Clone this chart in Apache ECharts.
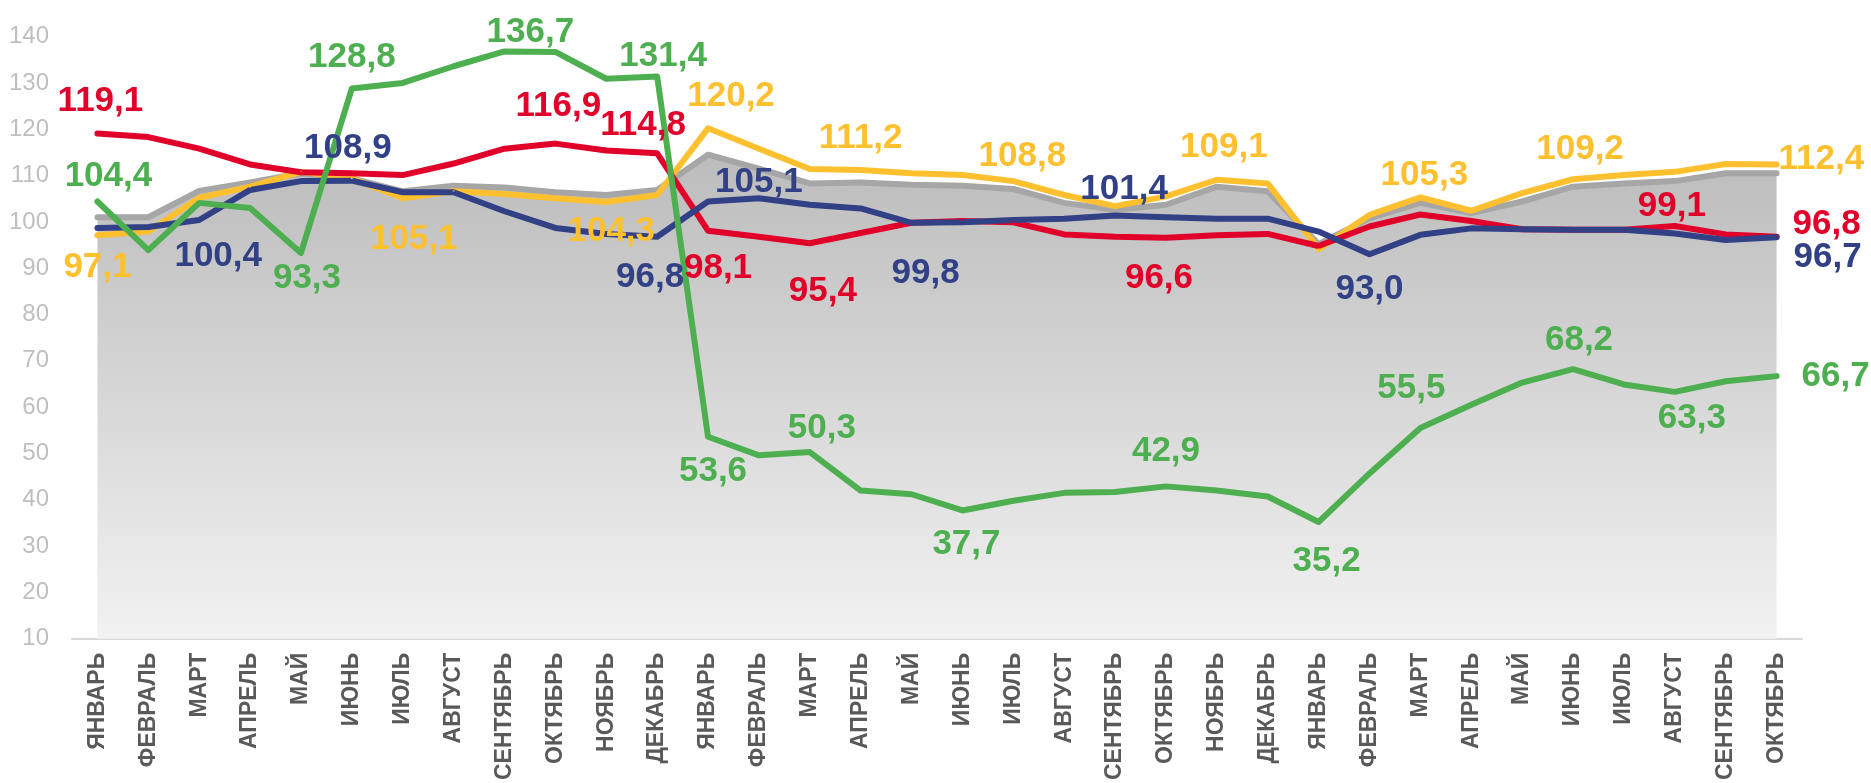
<!DOCTYPE html>
<html>
<head>
<meta charset="utf-8">
<script src="https://cdn.jsdelivr.net/npm/echarts@6/dist/echarts.min.js"></script>
<style>
  html, body { margin: 0; padding: 0; background: #ffffff; }
  #chart { width: 1871px; height: 783px; }
</style>
</head>
<body>
<div id="chart"></div>
<script>
var months = ['ЯНВАРЬ', 'ФЕВРАЛЬ', 'МАРТ', 'АПРЕЛЬ', 'МАЙ', 'ИЮНЬ', 'ИЮЛЬ', 'АВГУСТ', 'СЕНТЯБРЬ', 'ОКТЯБРЬ', 'НОЯБРЬ', 'ДЕКАБРЬ'];
var categories = months.concat(months, months.slice(0, 10));

// серая подложка
var greyValues = [101.0, 101.0, 106.7, 108.5, 110.5, 109.4, 106.6, 107.8, 107.4, 106.4, 105.8, 106.9,
  114.5, 111.5, 108.3, 108.5, 108.0, 107.8, 107.1, 104.1, 102.6, 103.7, 107.6, 106.6,
  95.2, 100.8, 104.1, 101.9, 104.4, 107.6, 108.3, 108.8, 110.5, 110.5];
var yellowValues = [97.1, 97.9, 105.2, 107.6, 110.8, 109.4, 105.1, 106.6, 106.0, 105.1, 104.3, 105.8,
  120.2, 115.8, 111.4, 111.2, 110.5, 110.1, 108.8, 105.8, 103.4, 105.5, 109.1, 108.3,
  94.1, 101.5, 105.3, 102.4, 106.2, 109.2, 110.1, 110.8, 112.5, 112.4];
var redValues = [119.1, 118.3, 115.8, 112.4, 110.7, 110.5, 110.1, 112.6, 115.8, 116.9, 115.4, 114.8,
  98.1, 96.8, 95.4, 97.6, 99.8, 100.2, 99.9, 97.3, 96.8, 96.6, 97.1, 97.4,
  94.8, 99.0, 101.6, 100.2, 98.4, 98.3, 98.3, 99.1, 97.3, 96.8];
var blueValues = [98.7, 98.9, 100.4, 106.9, 108.8, 108.9, 106.4, 106.4, 102.3, 98.7, 97.4, 96.8,
  104.4, 105.1, 103.7, 102.9, 99.8, 99.9, 100.4, 100.7, 101.4, 101.0, 100.7, 100.7,
  97.9, 93.0, 97.2, 98.6, 98.4, 98.3, 98.3, 97.5, 96.1, 96.7];
var greenValues = [104.4, 93.9, 104.1, 103.0, 93.3, 128.8, 130.0, 133.6, 136.8, 136.7, 130.9, 131.4,
  53.6, 49.6, 50.3, 42.0, 41.2, 37.7, 39.8, 41.5, 41.7, 42.9, 42.0, 40.7,
  35.2, 45.7, 55.5, 60.5, 65.3, 68.2, 64.9, 63.3, 65.6, 66.7];

var yTicks = { min: 10, max: 140, step: 10 };

// подписи: [индекс, позиция, dx, dy]
var yellowLabels = [[0, 'bottom', 0, 0], [6, 'bottom', 11, 9], [10, 'bottom', 5, -3], [12, 'top', 23, 1],
  [15, 'top', 0, 1], [18, 'top', 9, 8], [22, 'top', 7, 0], [26, 'top', 4, 11], [29, 'top', 7, 3], [33, 'right', 0, -5]];
var redLabels = [[0, 'top', 3, 0], [9, 'top', 3, -5], [11, 'top', -14, 5], [12, 'bottom', 10, 5],
  [14, 'bottom', 13, 16], [21, 'bottom', -7, 8], [31, 'top', -3, 13], [33, 'right', 14, -12]];
var blueLabels = [[2, 'bottom', 19, 4], [5, 'top', -4, 0], [11, 'bottom', -7, 8], [13, 'top', 0, 17],
  [16, 'bottom', 14, 18], [20, 'top', 9, 6], [25, 'bottom', 0, 3], [33, 'right', 15, 20]];
var greenLabels = [[0, 'top', 11, 7], [4, 'bottom', 6, -7], [5, 'top', 0, 1], [9, 'top', -25, 13],
  [11, 'top', 6, 12], [12, 'bottom', 5, 2], [14, 'top', 12, 9], [17, 'bottom', 4, 1], [21, 'top', 0, -3],
  [24, 'bottom', 8, 7], [26, 'top', -9, -7], [29, 'top', 6, 4], [31, 'bottom', 17, -6], [33, 'right', 23, 0]];

var FONT = '"Liberation Sans", Arial, sans-serif';

function fmt(v) {
  return v.toFixed(1).replace('.', ',');
}

function buildData(values, labels, color) {
  var data = values.map(function (v) { return { value: v }; });
  labels.forEach(function (l) {
    data[l[0]].label = {
      show: true,
      position: l[1],
      distance: l[1] == 'right' ? 1 : 14,
      color: color,
      fontFamily: FONT,
      fontWeight: 'bold',
      fontSize: 35,
      lineHeight: 35,
      formatter: function (p) { return fmt(p.value); }
    };
  });
  return data;
}

function lineSeries(name, values, labels, color) {
  var shift = {};
  labels.forEach(function (l) { shift[l[0]] = { dx: l[2], dy: l[3] }; });
  return {
    name: name,
    type: 'line',
    data: buildData(values, labels, color),
    // точки почти невидимы, нужны только для подписей
    showSymbol: true,
    symbol: 'circle',
    symbolSize: 2,
    itemStyle: { color: color },
    labelLayout: function (params) {
      var s = shift[params.dataIndex];
      return s ? { dx: s.dx, dy: s.dy, hideOverlap: false } : {};
    },
    lineStyle: { color: color, width: 6, cap: 'round', join: 'round' },
    emphasis: { disabled: true },
    z: 3
  };
}

function getOption() {
  return {
    backgroundColor: '#ffffff',
    animation: false,
    grid: { left: 72, right: 69, top: 36.6, bottom: 137.3 },
    xAxis: {
      type: 'category',
      data: categories,
      boundaryGap: true,
      axisLine: { show: true, lineStyle: { color: '#d9d9d9', width: 2 } },
      axisTick: { show: false },
      axisLabel: {
        interval: 0,
        rotate: 90,
        margin: 14,
        color: '#595959',
        fontFamily: FONT,
        fontWeight: 'bold',
        fontSize: 23
      },
      splitLine: { show: false }
    },
    yAxis: {
      type: 'value',
      min: yTicks.min,
      max: yTicks.max,
      interval: yTicks.step,
      axisLine: { show: false },
      axisTick: { show: false },
      splitLine: { show: false },
      axisLabel: {
        margin: 23,
        color: '#bfbfbf',
        fontFamily: FONT,
        fontSize: 24
      }
    },
    series: [
      {
        name: 'фон',
        type: 'line',
        data: greyValues,
        symbol: 'none',
        lineStyle: { color: '#a6a6a6', width: 6, cap: 'round', join: 'round' },
        areaStyle: {
          origin: 'start',
          opacity: 1,
          color: new echarts.graphic.LinearGradient(0, 0, 0, 1, [
            { offset: 0, color: '#bcbcbc' },
            { offset: 1, color: '#f2f2f2' }
          ])
        },
        emphasis: { disabled: true },
        z: 2
      },
      lineSeries('жёлтая', yellowValues, yellowLabels, '#fec02f'),
      lineSeries('красная', redValues, redLabels, '#e1002a'),
      lineSeries('синяя', blueValues, blueLabels, '#324086'),
      lineSeries('зелёная', greenValues, greenLabels, '#4daf4f')
    ]
  };
}

var chart = echarts.init(document.getElementById('chart'), null, { renderer: 'canvas' });
chart.setOption(getOption());
</script>
</body>
</html>
